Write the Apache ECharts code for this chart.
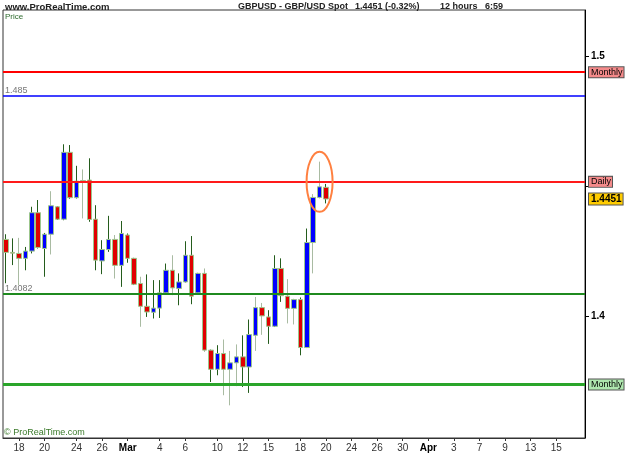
<!DOCTYPE html>
<html>
<head>
<meta charset="utf-8">
<title>GBPUSD - GBP/USD Spot</title>
<script src="https://cdn.jsdelivr.net/npm/echarts@6/dist/echarts.min.js"></script>
<style>
  html, body { margin: 0; padding: 0; background: #fff; }
  #chart { width: 625px; height: 469px; }
</style>
</head>
<body>
<div id="chart"></div>
<script>
// 12 hour bars, GBP/USD
var opens  = [1.4295,1.4245,1.4241,1.4222,1.4250,1.4398,1.4260,1.4315,1.4421,1.4373,
              1.4631,1.4456,1.4519,1.4524,1.4373,1.4212,1.4256,1.4295,1.4195,1.4312,
              1.4222,1.4125,1.4037,1.4014,1.4030,1.4089,1.4176,1.4106,1.4131,1.4234,
              1.4089,1.4164,1.3868,1.3794,1.3855,1.3794,1.3819,1.3842,1.3803,1.3925,
              1.4032,1.3996,1.3960,1.4183,1.4076,1.4029,1.4063,1.3878,1.4283,1.4457,
              1.4496];
var closes = [1.4245,1.4242,1.4222,1.4250,1.4398,1.4264,1.4315,1.4425,1.4373,1.4631,
              1.4456,1.4520,1.4522,1.4372,1.4215,1.4256,1.4295,1.4195,1.4318,1.4222,
              1.4122,1.4037,1.4015,1.4030,1.4089,1.4176,1.4108,1.4131,1.4234,1.4076,
              1.4164,1.3868,1.3794,1.3855,1.3794,1.3819,1.3842,1.3803,1.3928,1.4032,
              1.4000,1.3960,1.4183,1.4078,1.4029,1.4063,1.3878,1.4283,1.4457,1.4498,
              1.4451];
var lows   = [1.4126,1.4196,1.4119,1.4176,1.4241,1.4260,1.4151,1.4237,1.4370,1.4369,
              1.4452,1.4453,1.4376,1.4363,1.4176,1.4161,1.4247,1.4144,1.4112,1.4205,
              1.4119,1.3958,1.3996,1.3990,1.3992,1.4087,1.4080,1.4041,1.4129,1.4045,
              1.4087,1.3861,1.3745,1.3771,1.3694,1.3655,1.3729,1.3726,1.3703,1.3865,
              1.3927,1.3892,1.3957,1.4054,1.3971,1.3967,1.3848,1.3876,1.4164,1.4453,
              1.4434];
var highs  = [1.4315,1.4299,1.4301,1.4266,1.4421,1.4447,1.4320,1.4481,1.4423,1.4662,
              1.4659,1.4579,1.4565,1.4608,1.4427,1.4292,1.4386,1.4312,1.4366,1.4318,
              1.4224,1.4151,1.4160,1.4138,1.4138,1.4202,1.4234,1.4164,1.4288,1.4308,
              1.4166,1.4183,1.3870,1.3887,1.3909,1.3865,1.3890,1.3925,1.3986,1.4073,
              1.4050,1.4022,1.4234,1.4222,1.4142,1.4066,1.4071,1.4337,1.4470,1.4595,
              1.4509];
// bars whose wick is drawn faded
var fadedBars = [2,7,12,17,21,26,31,34,35,36,39,40,44,45,48,49];

// x axis: 91 bar slots, labels on some of them
var slotCount = 91;
var tickIndex = [2,6,11,15,19,24,28,33,37,41,46,50,54,58,62,66,70,74,78,82,86];
var tickText  = ['18','20','24','26','Mar','4','6','10','12','15','18','20','24','26','30','Apr','3','7','9','13','15'];

// horizontal levels
var levelValue = [1.4940, 1.4848, 1.4517, 1.4084, 1.3735];
var levelLabel = ['Monthly', '1.485', 'Daily', '1.4082', 'Monthly'];
var lastPrice = 1.4451;

var yMin = 1.3529, yMax = 1.5180;

var FONT = 'Liberation Sans, Arial, sans-serif';

var categories = [];
for (var i = 0; i < slotCount; i++) categories.push(String(i));

var wickData = [], bodyData = [];
for (var i = 0; i < opens.length; i++) {
  var item = { value: [opens[i], closes[i], lows[i], highs[i]] };
  if (fadedBars.indexOf(i) >= 0) {
    item.itemStyle = { color: '#a9bba2', color0: '#a9bba2', borderColor: '#a9bba2', borderColor0: '#a9bba2' };
  }
  wickData.push(item);
  bodyData.push([opens[i], closes[i], Math.min(opens[i], closes[i]), Math.max(opens[i], closes[i])]);
}

function tagStyle(bg, text) {
  return {
    show: true, position: 'end', distance: 4, color: '#000', fontSize: 9, fontFamily: FONT,
    backgroundColor: bg, borderColor: '#555', borderWidth: 1, padding: [1, 1, 0, 2],
    formatter: text
  };
}
function leftStyle(text) {
  return {
    show: true, position: 'insideStartTop', distance: [2, 1], color: '#777', fontSize: 9,
    fontFamily: FONT, formatter: text
  };
}
var lineColors = ['#ff0000', '#0000ff', '#ff1a1a', '#1f8a1f', '#2aa52a'];
var lineWidths = [2, 1.5, 2, 2, 3];
var tagColors  = ['#f48a8a', null, '#f48a8a', null, '#aee6ae'];

var markData = [];
for (var k = 0; k < levelValue.length; k++) {
  var lab = tagColors[k] ? tagStyle(tagColors[k], levelLabel[k]) : leftStyle(levelLabel[k]);
  markData.push({ yAxis: levelValue[k], lineStyle: { color: lineColors[k], width: lineWidths[k], type: 'solid' }, label: lab });
}
var priceTag = tagStyle('#ffcc00', String(lastPrice));
priceTag.fontWeight = 'bold';
priceTag.fontSize = 10;
markData.push({ yAxis: lastPrice, lineStyle: { color: 'rgba(0,0,0,0)', width: 1 }, label: priceTag });

var chart = echarts.init(document.getElementById('chart'));
var option = {
  animation: false,
  backgroundColor: '#fff',
  textStyle: { fontFamily: FONT },
  grid: { left: 3, right: 40, top: 10, bottom: 31, show: true, borderColor: '#333', borderWidth: 1, backgroundColor: '#fff' },
  xAxis: {
    type: 'category',
    data: categories,
    boundaryGap: true,
    axisLine: { show: true, lineStyle: { color: '#333', width: 1 } },
    axisTick: {
      show: true, alignWithLabel: true, length: 3, lineStyle: { color: '#333' },
      interval: function (idx) { return tickIndex.indexOf(idx) >= 0; }
    },
    axisLabel: {
      interval: function (idx) { return tickIndex.indexOf(idx) >= 0; },
      margin: 5, fontSize: 10, color: '#333',
      formatter: function (val, idx) {
        var t = tickText[tickIndex.indexOf(idx)];
        return (t === 'Mar' || t === 'Apr') ? '{b|' + t + '}' : t;
      },
      rich: { b: { fontWeight: 'bold', fontSize: 10, color: '#000' } }
    },
    splitLine: { show: false }
  },
  yAxis: {
    type: 'value',
    position: 'right',
    min: yMin, max: yMax, splitNumber: 3,
    axisLine: { show: true, lineStyle: { color: '#000', width: 1 } },
    axisTick: { show: true, length: 4, lineStyle: { color: '#000' } },
    axisLabel: {
      showMinLabel: false, showMaxLabel: false, margin: 6,
      fontSize: 10, fontWeight: 'bold', color: '#000',
      formatter: function (v) {
        var r = Math.round(v * 100) / 100;
        if (Math.abs(r - 1.4) < 1e-6) return '1.4';
        if (Math.abs(r - 1.5) < 1e-6) return '1.5';
        return '';
      }
    },
    splitLine: { show: false }
  },
  series: [
    {
      name: 'wick',
      type: 'candlestick',
      barWidth: 0,
      silent: true,
      itemStyle: { color: '#245c1c', color0: '#245c1c', borderColor: '#245c1c', borderColor0: '#245c1c', borderWidth: 1 },
      data: wickData,
      markLine: { silent: true, symbol: 'none', precision: 6, animation: false, data: markData }
    },
    {
      name: 'GBPUSD',
      type: 'candlestick',
      barWidth: 5,
      silent: true,
      itemStyle: { color: '#0000ff', color0: '#e00000', borderColor: '#9cc68c', borderColor0: '#9cc68c', borderWidth: 1 },
      data: bodyData
    }
  ],
  graphic: [
    { type: 'text', left: 5, top: 2, style: { text: 'www.ProRealTime.com', fontSize: 9.5, fontWeight: 'bold', fill: '#222', fontFamily: FONT } },
    { type: 'text', left: 238, top: 2, style: { text: 'GBPUSD - GBP/USD Spot', fontSize: 9, fontWeight: 'bold', fill: '#222', fontFamily: FONT } },
    { type: 'text', left: 355, top: 2, style: { text: '1.4451 (-0.32%)', fontSize: 9, fontWeight: 'bold', fill: '#222', fontFamily: FONT } },
    { type: 'text', left: 440, top: 2, style: { text: '12 hours', fontSize: 9, fontWeight: 'bold', fill: '#222', fontFamily: FONT } },
    { type: 'text', left: 485, top: 2, style: { text: '6:59', fontSize: 9, fontWeight: 'bold', fill: '#222', fontFamily: FONT } },
    { type: 'text', left: 5, top: 13, style: { text: 'Price', fontSize: 8, fill: '#2e6b2e', fontFamily: FONT } },
    { type: 'text', left: 4, top: 428, style: { text: '\u00a9 ProRealTime.com', fontSize: 9, fill: '#3a7a2a', fontFamily: FONT } }
  ]
};
chart.setOption(option);

// orange ring round the last two bars
var c = chart.convertToPixel({ gridIndex: 0 }, [49, 1.4517]);
chart.setOption({
  graphic: [
    { type: 'ellipse', id: 'ring', shape: { cx: c[0], cy: c[1], rx: 13, ry: 30 }, style: { fill: 'none', stroke: '#ff8040', lineWidth: 2 }, z: 100 }
  ]
});
</script>
</body>
</html>
